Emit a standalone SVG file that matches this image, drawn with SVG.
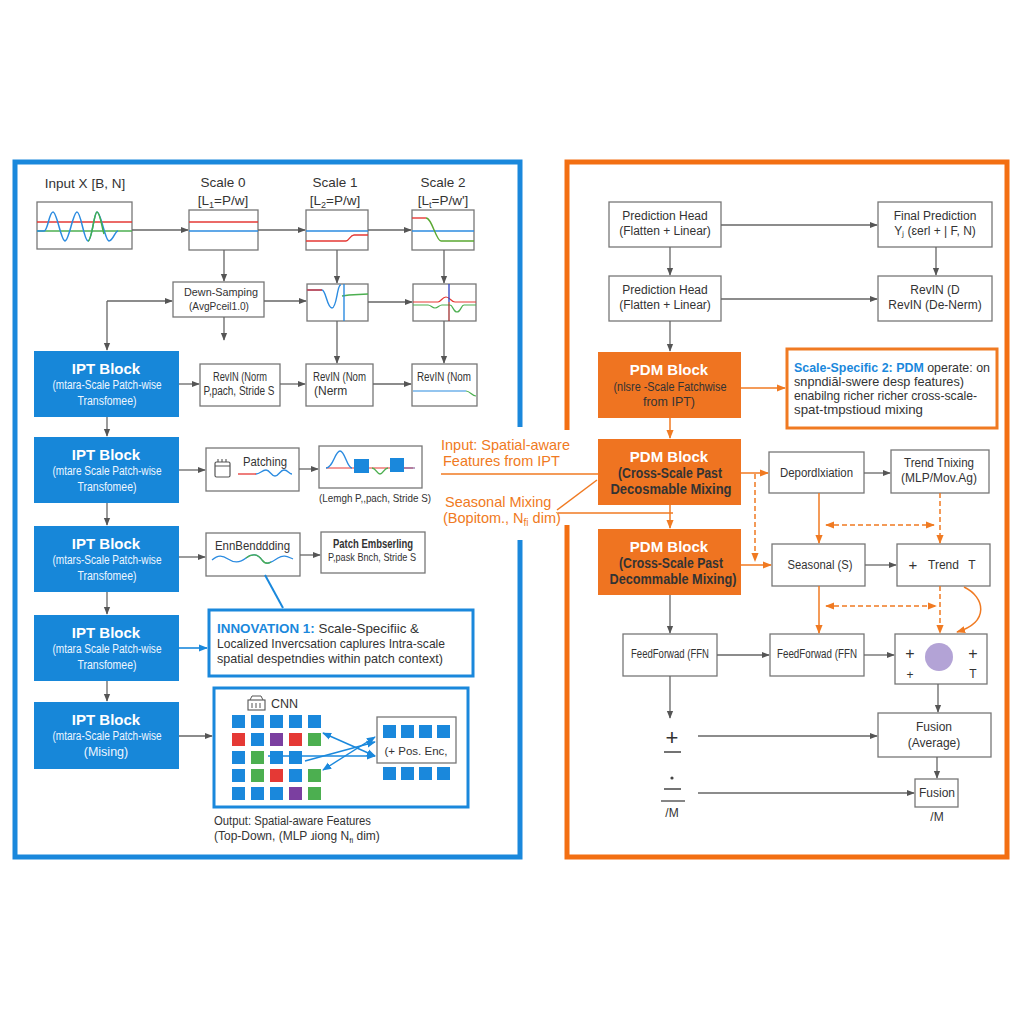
<svg xmlns="http://www.w3.org/2000/svg" width="1024" height="1024" viewBox="0 0 1024 1024">
<defs>
<marker id="ag" viewBox="0 0 10 10" refX="9" refY="5" markerWidth="8" markerHeight="8" markerUnits="userSpaceOnUse" orient="auto-start-reverse"><path d="M0,1 L10,5 L0,9 z" fill="#555"/></marker>
<marker id="ao" viewBox="0 0 10 10" refX="9" refY="5" markerWidth="9" markerHeight="9" markerUnits="userSpaceOnUse" orient="auto-start-reverse"><path d="M0,1 L10,5 L0,9 z" fill="#f07a22"/></marker>
<marker id="ab" viewBox="0 0 10 10" refX="9" refY="5" markerWidth="9" markerHeight="9" markerUnits="userSpaceOnUse" orient="auto-start-reverse"><path d="M0,1 L10,5 L0,9 z" fill="#1a88dc"/></marker>
<style>
text{font-family:"Liberation Sans",Arial,sans-serif;fill:#333}
.m{text-anchor:middle}
.box{fill:#fff;stroke:#777;stroke-width:1.3}
.ipt{fill:#1787d9}
.pdm{fill:#ef7421}
.tt{font-size:15px;font-weight:bold;fill:#fff}
.st{font-size:12.5px;fill:#eef6ff}
.bt{font-size:12px}
.or{fill:#f07a22}
.c{stroke:#666;stroke-width:1.3;fill:none;marker-end:url(#ag)}
.cb{stroke:#1a88dc;stroke-width:1.6;fill:none;marker-end:url(#ab)}
.cb2{stroke:#1a88dc;stroke-width:1.4;fill:none;marker-end:url(#ab);marker-start:url(#ab)}
.co{stroke:#f07a22;stroke-width:1.5;fill:none;marker-end:url(#ao)}
.cl{stroke:#f07a22;stroke-width:1.5;fill:none}
.cd{stroke:#f07a22;stroke-width:1.5;fill:none;stroke-dasharray:5 3;marker-end:url(#ao)}
.cdd{stroke:#f07a22;stroke-width:1.5;fill:none;stroke-dasharray:5 3;marker-end:url(#ao);marker-start:url(#ao)}
.sb{fill:#1a88dc}.sr{fill:#e53935}.sg{fill:#4caf50}.sp{fill:#7b3fa0}
</style>
</defs>
<rect width="1024" height="1024" fill="#fff"/>

<g id="panels">
<path d="M520,427 L520,162 L15,162 L15,857 L520,857 L520,540" fill="none" stroke="#1a88dc" stroke-width="5"/>
<path d="M567,430 L567,162 L1007,162 L1007,857 L567,857 L567,525" fill="none" stroke="#f36f12" stroke-width="5"/>
</g>

<g id="input">
<text x="85" y="188" class="m" font-size="13.5">Input X [B, N]</text>
<rect x="37" y="202" width="95" height="47" class="box"/>
<line x1="37" y1="222" x2="132" y2="222" stroke="#e53935" stroke-width="1.3"/>
<line x1="37" y1="231" x2="132" y2="231" stroke="#4caf50" stroke-width="1.3"/>
<path d="M37,231 L44,231 C48,231 49,212 53,212 C57,212 61,241 65,241 C69,241 73,212 77,212 C81,212 84,241 88,241 C92,241 94,212 97,212 C101,212 105,241 109,241 C113,241 115,231 118,231" fill="none" stroke="#2b8be0" stroke-width="1.5"/>
<path d="M88,241 C92,241 94,212 97,212 C100,212 102,228 104,234" fill="none" stroke="#43b04a" stroke-width="1.5"/>
</g>

<g id="scale0">
<text x="223" y="187" class="m" font-size="13.5">Scale 0</text>
<text x="223" y="205" class="m" font-size="13.5">[L<tspan font-size="9" dy="3">1</tspan><tspan dy="-3">=P/w]</tspan></text>
<rect x="189" y="210" width="69" height="40" class="box"/>
<line x1="189" y1="222" x2="258" y2="222" stroke="#e53935" stroke-width="1.3"/>
<line x1="189" y1="231" x2="258" y2="231" stroke="#2b8be0" stroke-width="1.5"/>
</g>

<g id="scale1">
<text x="335" y="187" class="m" font-size="13.5">Scale 1</text>
<text x="335" y="205" class="m" font-size="13.5">[L<tspan font-size="9" dy="3">2</tspan><tspan dy="-3">=P/w]</tspan></text>
<rect x="306" y="210" width="62" height="40" class="box"/>
<line x1="306" y1="231" x2="368" y2="231" stroke="#2b8be0" stroke-width="1.5"/>
<path d="M306,241 L346,241 C349,241 350,235 354,235 L368,235" fill="none" stroke="#e53935" stroke-width="1.3"/>
</g>

<g id="scale2">
<text x="443" y="187" class="m" font-size="13.5">Scale 2</text>
<text x="443" y="205" class="m" font-size="13.5">[L<tspan font-size="9" dy="3">t</tspan><tspan dy="-3">=P/w']</tspan></text>
<rect x="412" y="210" width="62" height="40" class="box"/>
<line x1="412" y1="231" x2="474" y2="231" stroke="#2b8be0" stroke-width="1.5"/>
<path d="M412,218 L426,218" fill="none" stroke="#e53935" stroke-width="1.4"/>
<path d="M426,218 C432,218 436,241 441,241 L474,241" fill="none" stroke="#5aa832" stroke-width="1.4"/>
</g>

<g id="downsampling">
<rect x="173" y="282" width="91" height="35" class="box"/>
<text x="221" y="296" class="m" font-size="11.5" textLength="74" lengthAdjust="spacingAndGlyphs">Dewn-Samping</text>
<text x="219" y="310" class="m" font-size="11.5" textLength="60" lengthAdjust="spacingAndGlyphs">(AvgPceil1.0)</text>
</g>

<g id="scale1b">
<rect x="307" y="284" width="61" height="37" class="box"/>
<path d="M307,290 L322,290 C326,290 327,308 332,308 C337,308 337,284 341,285" fill="none" stroke="#2b8be0" stroke-width="1.4"/>
<path d="M307,290 L322,290" stroke="#e53935" stroke-width="1.4"/>
<path d="M342,296 L349,295 L368,294" fill="none" stroke="#4caf50" stroke-width="1.4"/>
<line x1="344" y1="284" x2="344" y2="321" stroke="#2b8be0" stroke-width="1.4"/>
</g>

<g id="scale2b">
<rect x="413" y="284" width="63" height="37" class="box"/>
<path d="M413,302 L438,302 C441,302 442,297 446,297 C450,297 451,302 455,302 L476,302" fill="none" stroke="#e53935" stroke-width="1.2"/>
<path d="M413,305 L428,305 C431,305 432,308 435,308 C438,308 439,305 442,305 L450,305 C453,305 453,312 457,312 C461,312 461,305 464,305 L476,305" fill="none" stroke="#4caf50" stroke-width="1.2"/>
<line x1="449" y1="284" x2="449" y2="302" stroke="#2b3fc0" stroke-width="1.3"/>
<line x1="449" y1="302" x2="449" y2="321" stroke="#a03030" stroke-width="1.3"/>
</g>

<g id="revin1">
<rect x="200" y="364" width="80" height="42" class="box"/>
<text x="240" y="381" class="m" font-size="12" textLength="54" lengthAdjust="spacingAndGlyphs">RevIN (Norm</text>
<text x="239" y="395" class="m" font-size="12" textLength="71" lengthAdjust="spacingAndGlyphs">P,pach, Stride S</text>
</g>
<g id="revin2">
<rect x="306" y="364" width="67" height="42" class="box"/>
<text x="313" y="381" font-size="12" textLength="53" lengthAdjust="spacingAndGlyphs">RevIN (Nom</text>
<text x="314" y="395" font-size="12">(Nerm</text>
</g>
<g id="revin3">
<rect x="412" y="364" width="65" height="42" class="box"/>
<text x="417" y="381" font-size="12" textLength="54" lengthAdjust="spacingAndGlyphs">RevIN (Nom</text>
<path d="M413,391 L466,391" fill="none" stroke="#2b8be0" stroke-width="1.2"/>
<path d="M466,391 C470,391 472,396 476,396" fill="none" stroke="#4caf50" stroke-width="1.2"/>
</g>

<g id="ipt1">
<rect x="34" y="351" width="145" height="66" class="ipt"/>
<text x="106" y="374" class="m tt">IPT Block</text>
<text x="107" y="389" class="m st" textLength="109" lengthAdjust="spacingAndGlyphs">(mtara-Scale Patch-wise</text>
<text x="107" y="405" class="m st" textLength="59" lengthAdjust="spacingAndGlyphs">Transfomee)</text>
</g>
<g id="ipt2">
<rect x="34" y="437" width="145" height="66" class="ipt"/>
<text x="106" y="460" class="m tt">IPT Block</text>
<text x="107" y="475" class="m st" textLength="109" lengthAdjust="spacingAndGlyphs">(mtare Scale Patch-wise</text>
<text x="107" y="491" class="m st" textLength="59" lengthAdjust="spacingAndGlyphs">Transfomee)</text>
</g>
<g id="ipt3">
<rect x="34" y="526" width="145" height="66" class="ipt"/>
<text x="106" y="549" class="m tt">IPT Block</text>
<text x="107" y="564" class="m st" textLength="109" lengthAdjust="spacingAndGlyphs">(mtars-Scale Patch-wise</text>
<text x="107" y="580" class="m st" textLength="59" lengthAdjust="spacingAndGlyphs">Transfomee)</text>
</g>
<g id="ipt4">
<rect x="34" y="615" width="145" height="66" class="ipt"/>
<text x="106" y="638" class="m tt">IPT Block</text>
<text x="107" y="653" class="m st" textLength="109" lengthAdjust="spacingAndGlyphs">(mtara Scale Patch-wise</text>
<text x="107" y="669" class="m st" textLength="59" lengthAdjust="spacingAndGlyphs">Transfomee)</text>
</g>
<g id="ipt5">
<rect x="34" y="702" width="145" height="67" class="ipt"/>
<text x="106" y="725" class="m tt">IPT Block</text>
<text x="107" y="740" class="m st" textLength="109" lengthAdjust="spacingAndGlyphs">(mtara-Scale Patch-wise</text>
<text x="106" y="756" class="m st">(Mising)</text>
</g>

<g id="patching">
<rect x="206" y="448" width="93" height="43" class="box"/>
<rect x="215" y="462" width="15" height="15" fill="none" stroke="#555" stroke-width="1.2" rx="1.5"/>
<path d="M215,466 L230,466 M218,459 L218,462 M222,459 L222,462 M226,459 L226,462" stroke="#555" stroke-width="1.1"/>
<text x="243" y="466" font-size="12.5" textLength="44" lengthAdjust="spacingAndGlyphs">Patching</text>
<path d="M238,474 L256,474" stroke="#e53935" stroke-width="1.3"/>
<path d="M256,474 C260,474 262,470 266,470 C270,470 271,476 275,476 C279,476 280,470 284,470 C288,470 289,474 292,474" fill="none" stroke="#2b8be0" stroke-width="1.3"/>
</g>

<g id="patchview">
<rect x="319" y="446" width="103" height="42" class="box"/>
<line x1="326" y1="468" x2="413" y2="468" stroke="#e53935" stroke-width="1.2"/>
<path d="M326,468 C333,468 335,451 340,451 C345,451 347,468 352,468" fill="none" stroke="#2b8be0" stroke-width="1.4"/>
<rect x="354" y="459" width="15" height="14" class="sb"/>
<path d="M372,468 C376,468 377,474 380,474 C383,474 384,468 388,468" fill="none" stroke="#4caf50" stroke-width="1.4"/>
<rect x="390" y="458" width="14" height="14" class="sb"/>
<line x1="404" y1="468" x2="415" y2="468" stroke="#8a6aa0" stroke-width="1.2"/>
<text x="319" y="502" font-size="11.5" textLength="112" lengthAdjust="spacingAndGlyphs">(Lemgh P,,pach, Stride S)</text>
</g>

<g id="embedding">
<rect x="206" y="533" width="94" height="43" class="box"/>
<text x="215" y="550" font-size="12.5" textLength="75" lengthAdjust="spacingAndGlyphs">EnnBenddding</text>
<path d="M212,560 C218,555 222,555 228,559 C234,563 240,563 246,558 C252,553 258,554 262,560 C266,566 272,562 278,558 C284,554 288,557 293,559" fill="none" stroke="#2b8be0" stroke-width="1.3"/>
<path d="M246,558 C252,553 258,554 262,560 C265,564 268,564 271,562" fill="none" stroke="#4caf50" stroke-width="1.3"/>
</g>

<g id="patchembed">
<rect x="321" y="532" width="104" height="41" class="box"/>
<text x="333" y="548" font-size="12" font-weight="bold" textLength="80" lengthAdjust="spacingAndGlyphs">Patch Embserling</text>
<text x="328" y="561" font-size="11.5" textLength="88" lengthAdjust="spacingAndGlyphs">P,pask Bnch, Stride S</text>
</g>

<g id="innovation1">
<rect x="209" y="610" width="264" height="66" fill="#fff" stroke="#1a88dc" stroke-width="3"/>
<text x="217" y="633" font-size="13.5" textLength="202" lengthAdjust="spacingAndGlyphs"><tspan fill="#1a88dc" font-weight="bold">INNOVATION 1:</tspan> Scale-Specifiic &amp;</text>
<text x="217" y="648" font-size="13.5" textLength="228" lengthAdjust="spacingAndGlyphs">Localized Invercsation caplures Intra-scale</text>
<text x="217" y="663" font-size="13.5" textLength="226" lengthAdjust="spacingAndGlyphs">spatial despetndies within patch context)</text>
</g>

<g id="cnn">
<rect x="214" y="688" width="254" height="119" fill="#fff" stroke="#1a88dc" stroke-width="3"/>
<rect x="248" y="700" width="17" height="10" fill="none" stroke="#555" stroke-width="1.1"/>
<path d="M250,700 L252,696 L261,696 L263,700 M252,703 L252,708 M256,703 L256,708 M260,703 L260,708" fill="none" stroke="#555" stroke-width="1"/>
<text x="271" y="708" font-size="12.5">CNN</text>
<rect x="232" y="715" width="13" height="13" class="sb"/><rect x="251" y="715" width="13" height="13" class="sb"/><rect x="270" y="715" width="13" height="13" class="sb"/><rect x="289" y="715" width="13" height="13" class="sb"/><rect x="308" y="715" width="13" height="13" class="sb"/>
<rect x="232" y="733" width="13" height="13" class="sr"/><rect x="251" y="733" width="13" height="13" class="sb"/><rect x="270" y="733" width="13" height="13" class="sp"/><rect x="289" y="733" width="13" height="13" class="sr"/><rect x="308" y="733" width="13" height="13" class="sg"/>
<rect x="232" y="751" width="13" height="13" class="sb"/><rect x="251" y="751" width="13" height="13" class="sg"/><rect x="270" y="751" width="13" height="13" class="sb"/><rect x="289" y="751" width="13" height="13" class="sb"/>
<rect x="232" y="769" width="13" height="13" class="sb"/><rect x="251" y="769" width="13" height="13" class="sg"/><rect x="270" y="769" width="13" height="13" class="sr"/><rect x="289" y="769" width="13" height="13" class="sb"/><rect x="308" y="769" width="13" height="13" class="sg"/>
<rect x="232" y="787" width="13" height="13" class="sb"/><rect x="251" y="787" width="13" height="13" class="sb"/><rect x="270" y="787" width="13" height="13" class="sb"/><rect x="289" y="787" width="13" height="13" class="sp"/><rect x="308" y="787" width="13" height="13" class="sg"/>
<rect x="377" y="717" width="79" height="46" class="box"/>
<rect x="383" y="725" width="13" height="13" class="sb"/><rect x="401" y="725" width="13" height="13" class="sb"/><rect x="419" y="725" width="13" height="13" class="sb"/><rect x="437" y="725" width="13" height="13" class="sb"/>
<text x="416" y="755" class="m" font-size="11.5">(+ Pos. Enc,</text>
<rect x="383" y="767" width="13" height="13" class="sb"/><rect x="401" y="767" width="13" height="13" class="sb"/><rect x="419" y="767" width="13" height="13" class="sb"/><rect x="437" y="767" width="13" height="13" class="sb"/>
<line x1="323" y1="733" x2="375" y2="756" class="cb2"/>
<line x1="323" y1="770" x2="375" y2="737" class="cb2"/>
<line x1="305" y1="761" x2="375" y2="742" class="cb"/>
<line x1="268" y1="756" x2="375" y2="756" class="cb"/>
<text x="214" y="825" font-size="12.5" textLength="157" lengthAdjust="spacingAndGlyphs">Output: Spatial-aware Features</text>
<text x="214" y="840" font-size="12">(Top-Down, (MLP ɹiong N<tspan font-size="8" dy="3">fi</tspan><tspan dy="-3"> dim)</tspan></text>
</g>

<g id="midlabels">
<text x="441" y="450" font-size="14.5" class="or">Input: Spatial-aware</text>
<text x="443" y="466" font-size="14.5" class="or">Features from IPT</text>
<text x="445" y="507" font-size="14.5" class="or">Seasonal Mixing</text>
<text x="443" y="523" font-size="14.5" class="or">(Bopitom., N<tspan font-size="10" dy="3">fi</tspan><tspan dy="-3"> dim)</tspan></text>
</g>

<g id="predhead1">
<rect x="609" y="202" width="112" height="45" class="box"/>
<text x="665" y="220" class="m bt">Prediction Head</text>
<text x="665" y="235" class="m bt">(Flatten + Linear)</text>
</g>
<g id="finalpred">
<rect x="878" y="202" width="114" height="45" class="box"/>
<text x="935" y="220" class="m bt">Final Prediction</text>
<text x="935" y="235" class="m bt">Yⱼ (ɛerl + | F, N)</text>
</g>
<g id="predhead2">
<rect x="609" y="276" width="112" height="45" class="box"/>
<text x="665" y="294" class="m bt">Prediction Head</text>
<text x="665" y="309" class="m bt">(Flatten + Linear)</text>
</g>
<g id="revinD">
<rect x="878" y="276" width="114" height="45" class="box"/>
<text x="935" y="294" class="m bt">RevIN (D</text>
<text x="935" y="309" class="m bt">RevIN (De-Nerm)</text>
</g>

<g id="pdm1">
<rect x="598" y="352" width="143" height="66" class="pdm"/>
<text x="669" y="375" class="m tt">PDM Block</text>
<text x="670" y="391" class="m" font-size="12.5" fill="#fde6d4" textLength="113" lengthAdjust="spacingAndGlyphs">(nlsre -Scale Fatchwise</text>
<text x="669" y="406" class="m" font-size="12.5" fill="#fde6d4">from IPT)</text>
</g>
<g id="pdm2">
<rect x="598" y="439" width="143" height="66" class="pdm"/>
<text x="669" y="462" class="m tt">PDM Block</text>
<text x="670" y="478" class="m" font-size="14" font-weight="bold" fill="#fff" textLength="104" lengthAdjust="spacingAndGlyphs">(Cross-Scale Past</text>
<text x="671" y="494" class="m" font-size="14" font-weight="bold" fill="#fff" textLength="121" lengthAdjust="spacingAndGlyphs">Decosmable Mixing</text>
</g>
<g id="pdm3">
<rect x="598" y="529" width="143" height="66" class="pdm"/>
<text x="669" y="552" class="m tt">PDM Block</text>
<text x="671" y="568" class="m" font-size="14" font-weight="bold" fill="#fff" textLength="104" lengthAdjust="spacingAndGlyphs">(Cross-Scale Past</text>
<text x="673" y="584" class="m" font-size="14" font-weight="bold" fill="#fff" textLength="127" lengthAdjust="spacingAndGlyphs">Decommable Mixing)</text>
</g>

<g id="scalespecific2">
<rect x="787" y="349" width="210" height="79" fill="#fff" stroke="#f07a22" stroke-width="3"/>
<text x="794" y="372" font-size="13" textLength="196" lengthAdjust="spacingAndGlyphs"><tspan fill="#1a88dc" font-weight="bold">Scale-Specific 2: PDM</tspan> operate: on</text>
<text x="794" y="386" font-size="13" textLength="170" lengthAdjust="spacingAndGlyphs">snpndiāl-swere desp features)</text>
<text x="794" y="400" font-size="13" textLength="183" lengthAdjust="spacingAndGlyphs">enabilng richer richer cross-scale-</text>
<text x="794" y="414" font-size="13" textLength="129" lengthAdjust="spacingAndGlyphs">spat-tmpstioud mixing</text>
</g>

<g id="decomp">
<rect x="769" y="452" width="95" height="41" class="box"/>
<text x="780" y="477" class="bt" textLength="73" lengthAdjust="spacingAndGlyphs">Depordlxiation</text>
</g>
<g id="trendmix">
<rect x="891" y="450" width="98" height="43" class="box"/>
<text x="939" y="467" class="m bt" textLength="70" lengthAdjust="spacingAndGlyphs">Trend Tnixing</text>
<text x="939" y="482" class="m bt">(MLP/Mov.Ag)</text>
</g>
<g id="seasonal">
<rect x="772" y="544" width="93" height="42" class="box"/>
<text x="820" y="569" class="m bt" textLength="65" lengthAdjust="spacingAndGlyphs">Seasonal (S)</text>
</g>
<g id="trend">
<rect x="897" y="544" width="93" height="42" class="box"/>
<text x="913" y="570" class="m" font-size="15" fill="#4a6a8a">+</text>
<text x="928" y="569" class="bt">Trend</text>
<text x="972" y="569" class="m bt">T</text>
</g>

<g id="ffn1">
<rect x="623" y="634" width="94" height="42" class="box"/>
<text x="631" y="658" font-size="12" textLength="78" lengthAdjust="spacingAndGlyphs">FeedForwad (FFN</text>
</g>
<g id="ffn2">
<rect x="770" y="634" width="94" height="42" class="box"/>
<text x="777" y="658" font-size="12" textLength="80" lengthAdjust="spacingAndGlyphs">FeedForwad (FFN</text>
</g>
<g id="combine">
<rect x="895" y="634" width="92" height="50" class="box"/>
<circle cx="939" cy="657" r="14" fill="#b3a3d6"/>
<text x="910" y="659" class="m" font-size="16">+</text>
<text x="910" y="679" class="m" font-size="12">+</text>
<text x="973" y="659" class="m" font-size="16">+</text>
<text x="973" y="678" class="m" font-size="12">T</text>
</g>
<g id="fusionavg">
<rect x="878" y="713" width="113" height="44" class="box"/>
<text x="934" y="731" class="m bt">Fusion</text>
<text x="934" y="747" class="m bt">(Average)</text>
</g>
<g id="fusion">
<rect x="915" y="779" width="43" height="28" class="box"/>
<text x="937" y="797" class="m bt">Fusion</text>
<text x="937" y="821" class="m bt">/M</text>
</g>
<g id="opplus">
<text x="672" y="745" class="m" font-size="22" fill="#444">+</text>
<line x1="664" y1="752" x2="681" y2="752" stroke="#444" stroke-width="1.5"/>
</g>
<g id="opdiv">
<circle cx="672" cy="778" r="1.6" fill="#444"/>
<line x1="664" y1="789" x2="681" y2="789" stroke="#444" stroke-width="1.5"/>
<line x1="661" y1="801" x2="685" y2="801" stroke="#444" stroke-width="1.3"/>
<text x="672" y="817" class="m bt">/M</text>
</g>

<g id="connectors">
<line x1="132" y1="230" x2="188" y2="230" class="c"/>
<line x1="258" y1="230" x2="305" y2="230" class="c"/>
<line x1="368" y1="230" x2="411" y2="230" class="c"/>
<line x1="224" y1="250" x2="224" y2="281" class="c"/>
<line x1="337" y1="250" x2="337" y2="283" class="c"/>
<line x1="444" y1="250" x2="444" y2="283" class="c"/>
<line x1="264" y1="301" x2="306" y2="301" class="c"/>
<line x1="368" y1="302" x2="412" y2="302" class="c"/>
<line x1="107" y1="301" x2="172" y2="301" class="c"/>
<line x1="107" y1="301" x2="107" y2="350" class="c"/>
<line x1="224" y1="317" x2="224" y2="340" class="c"/>
<line x1="337" y1="321" x2="337" y2="363" class="c"/>
<line x1="444" y1="321" x2="444" y2="363" class="c"/>
<line x1="179" y1="384" x2="199" y2="384" class="c"/>
<line x1="280" y1="384" x2="305" y2="384" class="c"/>
<line x1="373" y1="384" x2="411" y2="384" class="c"/>
<line x1="107" y1="417" x2="107" y2="436" class="c"/>
<line x1="107" y1="503" x2="107" y2="525" class="c"/>
<line x1="107" y1="592" x2="107" y2="614" class="c"/>
<line x1="107" y1="681" x2="107" y2="701" class="c"/>
<line x1="179" y1="470" x2="205" y2="470" class="c"/>
<line x1="299" y1="469" x2="318" y2="469" class="c"/>
<line x1="179" y1="557" x2="205" y2="557" class="c"/>
<line x1="300" y1="555" x2="320" y2="555" class="c"/>
<line x1="265" y1="575" x2="283" y2="608" stroke="#1a88dc" stroke-width="2"/>
<line x1="179" y1="648" x2="207" y2="648" class="cb"/>
<line x1="179" y1="736" x2="212" y2="736" class="c"/>
<line x1="721" y1="225" x2="877" y2="225" class="c"/>
<line x1="670" y1="247" x2="670" y2="275" class="c"/>
<line x1="936" y1="247" x2="936" y2="275" class="c"/>
<line x1="721" y1="299" x2="877" y2="299" class="c"/>
<line x1="670" y1="321" x2="670" y2="351" class="c"/>
<line x1="670" y1="418" x2="670" y2="438" class="co"/>
<line x1="670" y1="505" x2="670" y2="528" class="co"/>
<line x1="670" y1="595" x2="670" y2="633" class="c"/>
<line x1="741" y1="388" x2="785" y2="388" class="co"/>
<line x1="441" y1="474" x2="598" y2="474" class="cl"/>
<line x1="557" y1="510" x2="597" y2="480" class="cl"/>
<line x1="558" y1="513" x2="673" y2="513" class="cl"/>
<line x1="741" y1="473" x2="768" y2="473" class="co"/>
<line x1="864" y1="473" x2="890" y2="473" class="c"/>
<line x1="755" y1="474" x2="755" y2="561" class="cd"/>
<line x1="741" y1="565" x2="771" y2="565" class="co"/>
<line x1="819" y1="493" x2="819" y2="543" class="co"/>
<line x1="826" y1="525" x2="934" y2="525" class="cdd"/>
<line x1="940" y1="493" x2="940" y2="543" class="cd"/>
<line x1="865" y1="565" x2="896" y2="565" class="c"/>
<line x1="819" y1="586" x2="819" y2="633" class="co"/>
<line x1="826" y1="606" x2="936" y2="606" class="cdd"/>
<line x1="940" y1="586" x2="940" y2="633" class="cd"/>
<path d="M964,587 C985,597 990,622 957,632" class="co"/>
<line x1="717" y1="655" x2="769" y2="655" class="c"/>
<line x1="864" y1="655" x2="894" y2="655" class="c"/>
<line x1="938" y1="684" x2="938" y2="712" class="c"/>
<line x1="670" y1="676" x2="670" y2="718" class="c"/>
<line x1="698" y1="736" x2="877" y2="736" class="c"/>
<line x1="937" y1="757" x2="937" y2="778" class="c"/>
<line x1="698" y1="793" x2="914" y2="793" class="c"/>
</g>
</svg>
